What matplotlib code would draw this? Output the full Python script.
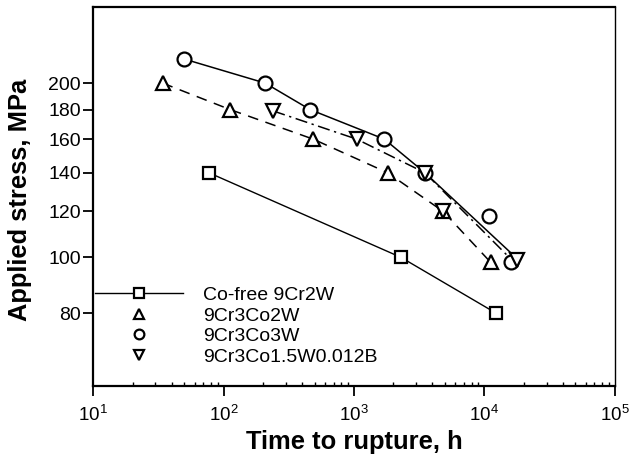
import matplotlib
matplotlib.use("Agg")
import matplotlib.pyplot as plt
from matplotlib.lines import Line2D
from matplotlib.ticker import NullLocator, LogLocator

plt.rcParams['font.family'] = ['Liberation Sans', 'DejaVu Sans']
plt.rcParams['mathtext.fontset'] = 'custom'
plt.rcParams['mathtext.rm'] = 'Liberation Sans'
plt.rcParams['mathtext.default'] = 'regular'

# measured creep rupture data (time in h, stress in MPa)
labels = ["Co-free 9Cr2W", "9Cr3Co2W", "9Cr3Co3W", "9Cr3Co1.5W0.012B"]

t_cofree = [77, 2290, 12400]
s_cofree = [140, 100, 80]

t_co2w = [34, 112, 487, 1810, 4840, 11200]
s_co2w = [200, 180, 160, 140, 120, 98]

t_co3w = [50, 208, 460, 1710, 3500, 10900, 15900]
s_co3w = [220, 200, 180, 160, 140, 118, 98]

t_co15w = [240, 1050, 3500, 4840, 17900]
s_co15w = [179, 160, 140, 120, 99]

# trend lines drawn through the data
fit_t_co3w = [50, 208, 460, 1710, 3500, 16200]
fit_s_co3w = [220, 200, 180, 160, 140, 101.5]

fit_t_co15w = [240, 1050, 3500, 15500]
fit_s_co15w = [179, 160, 140, 100]

y_ticks = [80, 100, 120, 140, 160, 180, 200]

fig = plt.figure(figsize=(6.29, 4.65), dpi=100)
ax = fig.add_axes([0.1483, 0.1705, 0.8289, 0.8151])

mk = dict(mfc='white', mec='black', mew=1.6, ls='none', zorder=3)

# lines
ax.plot(t_cofree, s_cofree, color='black', lw=1.0)
ax.plot(t_co2w, s_co2w, color='black', lw=1.1, dashes=(7, 5))
ax.plot(fit_t_co3w, fit_s_co3w, color='black', lw=1.1)
ax.plot(fit_t_co15w, fit_s_co15w, color='black', lw=1.1, dashes=(8, 3, 1.5, 3))

# markers
ax.plot(t_cofree, s_cofree, marker='s', ms=9, **mk)
ax.plot(t_co2w, s_co2w, marker='^', ms=10, **mk)
ax.plot(t_co3w, s_co3w, marker='o', ms=10, **mk)
ax.plot(t_co15w, s_co15w, marker='v', ms=10, **mk)

ax.set_xscale('log')
ax.set_yscale('log')
ax.set_xlim(10, 1e5)
ax.set_ylim(60, 271)

ax.set_yticks(y_ticks)
ax.set_yticklabels([str(v) for v in y_ticks])
ax.yaxis.set_minor_locator(NullLocator())
ax.xaxis.set_major_locator(LogLocator(base=10, numticks=10))
ax.xaxis.set_minor_locator(LogLocator(base=10, subs=range(2, 10), numticks=10))

ax.tick_params(axis='y', which='major', direction='out', length=7, width=1.3,
               labelsize=14, pad=2)
ax.tick_params(axis='x', which='major', direction='out', length=7, width=1.3,
               labelsize=13.5, pad=7)
ax.tick_params(axis='x', which='minor', direction='in', length=3, width=1.0)

for side in ['left', 'bottom', 'top']:
    ax.spines[side].set_linewidth(1.6)
ax.spines['right'].set_linewidth(1.0)

ax.set_xlabel("Time to rupture, h", fontsize=18.4, fontweight='bold')
ax.set_ylabel("Applied stress, MPa", fontsize=18.4, fontweight='bold')
ax.xaxis.set_label_coords(0.5, -0.116)
ax.yaxis.set_label_coords(-0.117, 0.49)

handles = [
    Line2D([], [], color='black', lw=1.0, marker='s', ms=6.5, mfc='white', mec='black', mew=1.6),
    Line2D([], [], ls='none', marker='^', ms=7, mfc='white', mec='black', mew=1.6),
    Line2D([], [], ls='none', marker='o', ms=7, mfc='white', mec='black', mew=1.6),
    Line2D([], [], ls='none', marker='v', ms=7, mfc='white', mec='black', mew=1.6),
]
ax.legend(handles, labels, loc='center left', bbox_to_anchor=(95 / 629, 1 - 326 / 465),
          bbox_transform=fig.transFigure, frameon=False, fontsize=14,
          handlelength=4.5, handletextpad=1.05, labelspacing=0.15,
          borderpad=0, borderaxespad=0)

fig.savefig("out.png", dpi=100)
